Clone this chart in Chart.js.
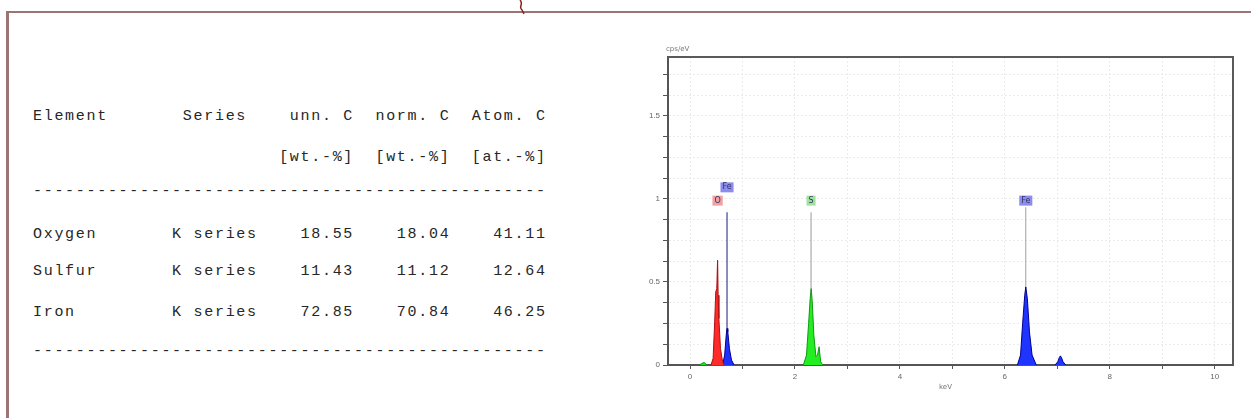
<!DOCTYPE html>
<html>
<head>
<meta charset="utf-8">
<script src="https://cdn.jsdelivr.net/npm/chart.js@4.4.1/dist/chart.umd.min.js"></script>
<style>
  html, body { margin: 0; padding: 0; background: #fff; }
  body { width: 1251px; height: 418px; position: relative; overflow: hidden; }
  #frame { position: absolute; left: 6px; top: 11px; width: 1260px; height: 420px;
           border-top: 2px solid #9c7474; border-left: 3px solid #9c7474; }
  .row { position: absolute; left: 33px; white-space: pre; font-family: "Liberation Mono", "Courier New", monospace;
         font-size: 15px; letter-spacing: 1.7px; line-height: 20px; color: #262626; }
  #spec { position: absolute; left: 630px; top: 40px; width: 615px; height: 355px; }
</style>
</head>
<body>
<div id="frame"></div>
<svg style="position:absolute;left:512px;top:0" width="20" height="16">
  <path d="M8 0 C 12 4, 6 7, 10 10 L 12 14" stroke="#8a2020" stroke-width="1.5" fill="none"/>
</svg>
<div id="table"></div>
<div id="spec"><canvas id="edsChart"></canvas></div>
<script>
// quantification table
const elements = ['Oxygen', 'Sulfur', 'Iron'];
const seriesNames = ['K series', 'K series', 'K series'];
const unnC = ['18.55', '11.43', '72.85'];
const normC = ['18.04', '11.12', '70.84'];
const atomC = ['41.11', '12.64', '46.25'];

// spectrum (keV / cps/eV)
const oxygenKeV = [0.40, 0.44, 0.47, 0.49, 0.51, 0.525, 0.535, 0.55, 0.58, 0.62, 0.65];
const oxygenCps = [0, 0.04, 0.26, 0.44, 0.46, 0.63, 0.42, 0.28, 0.10, 0.02, 0];
const ironLKeV = [0.62, 0.66, 0.69, 0.705, 0.72, 0.75, 0.79, 0.84];
const ironLCps = [0, 0.06, 0.18, 0.22, 0.20, 0.10, 0.03, 0];
const lowKeV = [0.18, 0.24, 0.27, 0.32];
const lowCps = [0, 0.012, 0.015, 0];
const sulfurKeV = [2.16, 2.22, 2.26, 2.29, 2.31, 2.33, 2.36, 2.40, 2.43, 2.46, 2.49, 2.53];
const sulfurCps = [0, 0.06, 0.25, 0.40, 0.46, 0.38, 0.18, 0.05, 0.06, 0.11, 0.02, 0];
const ironKKeV = [6.24, 6.30, 6.34, 6.38, 6.40, 6.43, 6.47, 6.52, 6.60];
const ironKCps = [0, 0.06, 0.25, 0.42, 0.47, 0.40, 0.20, 0.06, 0];
const ironKbKeV = [6.96, 7.01, 7.04, 7.06, 7.08, 7.11, 7.16];
const ironKbCps = [0, 0.02, 0.045, 0.055, 0.045, 0.02, 0];

// peak markers
const markerNames = ['O', 'Fe', 'S', 'Fe'];
const markerKeV = [0.525, 0.705, 2.307, 6.40];
const markerTop = [0.63, 0.92, 0.92, 0.95];
const markerLabelY = [0.99, 1.07, 0.99, 0.99];
const markerLine = ['#e03030', '#1a1a80', '#9a9a9a', '#a0a0a0'];
const markerBox = ['#f4a0a0', '#8c8cf0', '#9ee49e', '#8c8cf0'];

// x ticks (labelled every 2 keV), y ticks (labelled every 0.5)
const xTickLabels = ['0', '2', '4', '6', '8', '10'];
const yTickLabels = ['0', '0.5', '1', '1.5'];

// ---- table as preformatted text
const lines = [];
lines.push({ top: 107, text: 'Element'.padEnd(14) + 'Series'.padEnd(10) + 'unn. C  norm. C  Atom. C' });
lines.push({ top: 148, text: ' '.repeat(23) + '[wt.-%]  [wt.-%]  [at.-%]' });
lines.push({ top: 182, text: '-'.repeat(48) });
const rowTops = [225, 262, 303];
elements.forEach((el, i) => {
    lines.push({ top: rowTops[i], text: el.padEnd(13) + seriesNames[i] + unnC[i].padStart(9) + normC[i].padStart(9) + atomC[i].padStart(9) });
});
lines.push({ top: 342, text: '-'.repeat(48) });
const tbl = document.getElementById('table');
lines.forEach(l => {
    const d = document.createElement('div');
    d.className = 'row';
    d.style.top = l.top + 'px';
    d.textContent = l.text;
    tbl.appendChild(d);
});

// ---- spectrum
const toPts = (xs, ys) => xs.map((x, i) => ({ x: x, y: ys[i] }));
const peak = (xs, ys, fill, line) => ({
    data: toPts(xs, ys), backgroundColor: fill, borderColor: line, borderWidth: 1,
    fill: 'origin', pointRadius: 0, tension: 0
});

const datasets = [
    peak(lowKeV, lowCps, '#22dd22', '#119911'),
    peak(oxygenKeV, oxygenCps, '#ff2a2a', '#b01010'),
    peak(ironLKeV, ironLCps, '#2030ff', '#000090'),
    peak(sulfurKeV, sulfurCps, '#22ee22', '#119911'),
    peak(ironKKeV, ironKCps, '#1f35ff', '#000090'),
    peak(ironKbKeV, ironKbCps, '#1f35ff', '#000090')
];
markerKeV.forEach((k, i) => {
    datasets.push({
        data: [{ x: k, y: 0 }, { x: k, y: markerTop[i] }],
        borderColor: markerLine[i], borderWidth: 1, pointRadius: 0, fill: false
    });
});

const labelPlugin = {
    id: 'labels',
    afterDatasetsDraw(chart) {
        const { ctx, chartArea, scales } = chart;
        ctx.save();
        // frame on top and right
        ctx.strokeStyle = '#5a5a5a';
        ctx.lineWidth = 2;
        ctx.beginPath();
        ctx.moveTo(chartArea.left, chartArea.top);
        ctx.lineTo(chartArea.right, chartArea.top);
        ctx.lineTo(chartArea.right, chartArea.bottom);
        ctx.stroke();
        // peak labels
        ctx.font = '8px "DejaVu Sans"';
        ctx.textAlign = 'center';
        ctx.textBaseline = 'middle';
        markerNames.forEach((n, i) => {
            const px = scales.x.getPixelForValue(markerKeV[i]);
            const py = scales.y.getPixelForValue(markerLabelY[i]);
            const w = ctx.measureText(n).width + 4;
            ctx.fillStyle = markerBox[i];
            ctx.fillRect(px - w / 2, py - 5, w, 10);
            ctx.fillStyle = '#333366';
            ctx.fillText(n, px, py);
        });
        // axis titles
        ctx.fillStyle = '#777';
        ctx.font = '7px "DejaVu Sans"';
        ctx.textAlign = 'left';
        ctx.fillText('cps/eV', chartArea.left - 2, chartArea.top - 8);
        ctx.textAlign = 'center';
        ctx.fillText('keV', (chartArea.left + chartArea.right) / 2 - 5, chartArea.bottom + 22);
        ctx.restore();
    }
};

new Chart(document.getElementById('edsChart'), {
    type: 'line',
    data: { datasets: datasets },
    options: {
        responsive: true,
        maintainAspectRatio: false,
        animation: false,
        layout: { padding: { left: 0, top: 17, right: 12, bottom: 0 } },
        plugins: { legend: { display: false }, tooltip: { enabled: false } },
        scales: {
            x: {
                type: 'linear', min: -0.42, max: 10.35,
                afterFit: s => { s.height = 30; },
                ticks: {
                    stepSize: 1, includeBounds: false, autoSkip: false, maxRotation: 0,
                    color: '#666', font: { size: 8 },
                    callback: v => (v % 2 === 0 && v >= 0) ? xTickLabels[v / 2] : ''
                },
                grid: { color: '#ebebeb', tickColor: '#555', tickLength: 4 },
                border: { color: '#555', width: 2, dash: [2, 2] }
            },
            y: {
                min: 0, max: 1.855,
                afterFit: s => { s.width = 38; },
                ticks: {
                    stepSize: 0.125, includeBounds: false, autoSkip: false,
                    color: '#666', font: { size: 8 },
                    callback: v => {
                        const k = Math.round(v / 0.5);
                        return Math.abs(v - k * 0.5) < 1e-6 ? yTickLabels[k] : '';
                    }
                },
                grid: { color: '#ebebeb', tickColor: '#555', tickLength: 5 },
                border: { color: '#555', width: 2, dash: [2, 2] }
            }
        }
    },
    plugins: [labelPlugin]
});
</script>
</body>
</html>
